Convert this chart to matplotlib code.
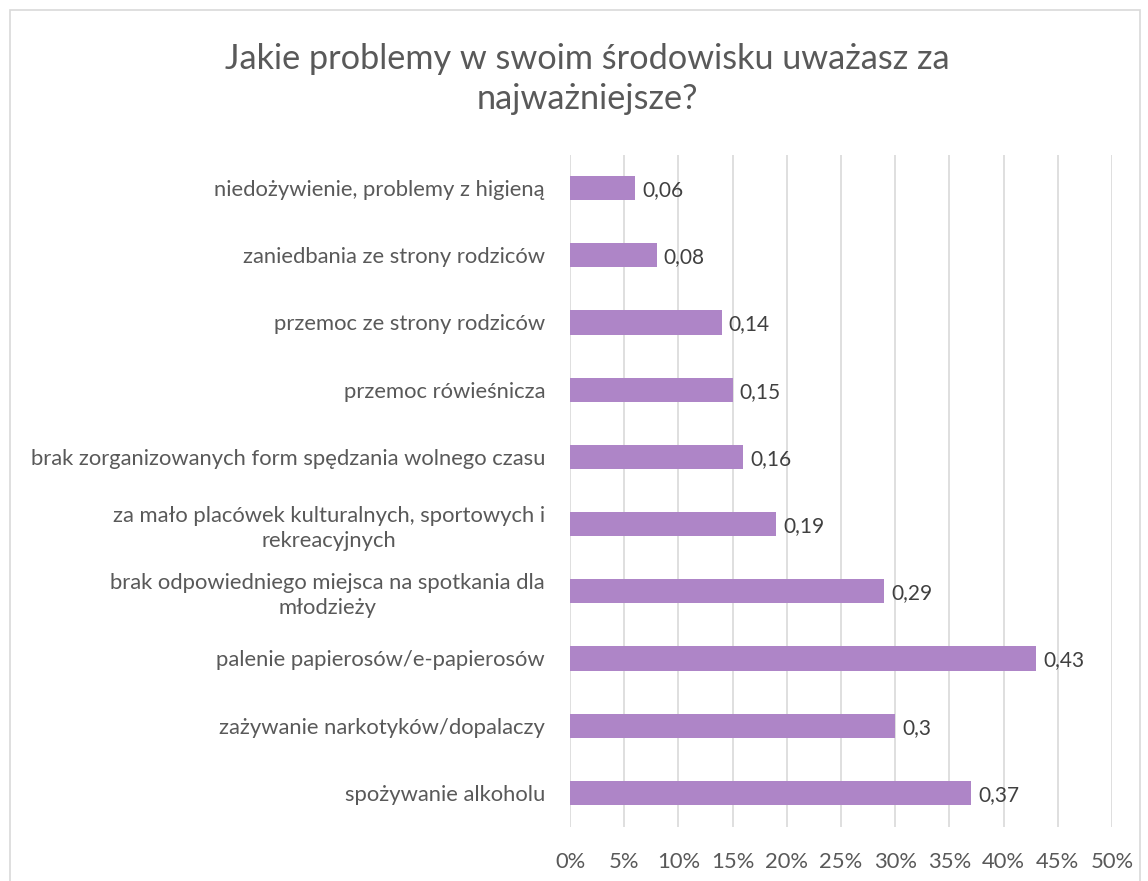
import numpy as np
import matplotlib.pyplot as plt
from matplotlib.patches import Rectangle
from matplotlib.ticker import FuncFormatter, MultipleLocator

plt.rcParams['font.family'] = ['Lato', 'DejaVu Sans']

# categories from bottom to top
categories = [
    "spożywanie alkoholu",
    "zażywanie narkotyków/dopalaczy",
    "palenie papierosów/e-papierosów",
    "brak odpowiedniego miejsca na spotkania dla\nmłodzieży",
    "za mało placówek kulturalnych, sportowych i\nrekreacyjnych",
    "brak zorganizowanych form spędzania wolnego czasu",
    "przemoc rówieśnicza",
    "przemoc ze strony rodziców",
    "zaniedbania ze strony rodziców",
    "niedożywienie, problemy z higieną",
]
values = [0.37, 0.3, 0.43, 0.29, 0.19, 0.16, 0.15, 0.14, 0.08, 0.06]
value_labels = ["0,37", "0,3", "0,43", "0,29", "0,19", "0,16", "0,15", "0,14", "0,08", "0,06"]

title = "Jakie problemy w swoim środowisku uważasz za\nnajważniejsze?"

bar_color = "#AE85C7"
text_color = "#595959"
grid_color = "#D9D9D9"

fig = plt.figure(figsize=(11.48, 8.81), dpi=100)
fig.patches.append(Rectangle((10 / 1148, -0.01), 1130 / 1148, 1 - 10 / 881 + 0.01,
                             transform=fig.transFigure, fill=False,
                             edgecolor=grid_color, linewidth=1.2))

ax = fig.add_axes([570 / 1148, 1 - 826.5 / 881, 542 / 1148, 672 / 881])

y = np.arange(len(categories))
ax.barh(y, values, height=0.36, color=bar_color, zorder=3)

for yi, v, lab in zip(y, values, value_labels):
    ax.annotate(lab, (v, yi), xytext=(5, -1.5), textcoords="offset points",
                va="center", ha="left", fontsize=15, color="#404040")

ax.set_xlim(0, 0.5)
ax.set_ylim(-0.5, len(categories) - 0.5)
ax.xaxis.set_major_locator(MultipleLocator(0.05))
ax.xaxis.set_major_formatter(FuncFormatter(lambda x, p: f"{round(x * 100)}%"))
ax.grid(axis="x", color=grid_color, linewidth=1.2, zorder=0)
ax.set_axisbelow(True)

ax.set_yticks(y)
ax.set_yticklabels(categories, multialignment="center", linespacing=1.3)
ax.tick_params(axis="y", length=0, pad=18, labelsize=15.8, labelcolor=text_color)
ax.tick_params(axis="x", length=0, pad=18, labelsize=15.8, labelcolor=text_color)

for s in ax.spines.values():
    s.set_visible(False)

fig.text(587 / 1148, 1 - 79 / 881, title, ha="center", va="center",
         fontsize=24.7, color=text_color, linespacing=1.33)

fig.savefig("out.png", dpi=100)
